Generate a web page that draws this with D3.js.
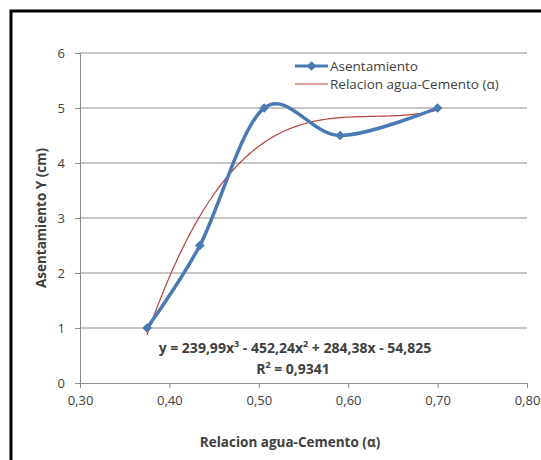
<!DOCTYPE html>
<html lang="es">
<head>
<meta charset="utf-8">
<script src="https://d3js.org/d3.v7.min.js"></script>
<style>
body { margin: 0; background: #fff; }
svg text { font-family: "Open Sans", "Liberation Sans", sans-serif; fill: #404040; }
</style>
</head>
<body>
<script>
// data
var ratio = [0.375, 0.434, 0.506, 0.591, 0.700];
var slump = [1.0, 2.5, 5.0, 4.5, 5.0];
var xTicks = [0.30, 0.40, 0.50, 0.60, 0.70, 0.80];
var yTicks = [0, 1, 2, 3, 4, 5, 6];
// trendline coefficients as printed on the chart (x^3, x^2, x, 1)
var trendCoef = [239.99, -452.24, 284.38, -54.825];
var seriesNames = ["Asentamiento", "Relacion agua-Cemento (\u03b1)"];

var width = 541, height = 460;
var plotLeft = 80, plotRight = 527, plotTop = 53, plotBottom = 383;

var svg = d3.select("body").append("svg")
  .attr("width", width)
  .attr("height", height);

// frame (only left and top edges are visible in the crop)
svg.append("path")
  .attr("d", "M11," + height + "V11H" + width)
  .attr("fill", "none").attr("stroke", "#000").attr("stroke-width", 3);

var x = d3.scaleLinear().domain([0.3, 0.8]).range([plotLeft, plotRight]);
var y = d3.scaleLinear().domain([0, 6]).range([plotBottom, plotTop]);

// gridlines
svg.append("g").selectAll("line")
  .data(yTicks.slice(1))
  .enter().append("line")
  .attr("x1", plotLeft).attr("x2", plotRight)
  .attr("y1", function(d) { return y(d); })
  .attr("y2", function(d) { return y(d); })
  .attr("stroke", "#8c8c8c").attr("stroke-width", 1);

// axes
var fmt = function(d) { return d3.format(".2f")(d).replace(".", ","); };
var xAxis = svg.append("g")
  .attr("transform", "translate(0," + plotBottom + ")")
  .call(d3.axisBottom(x).tickValues(xTicks).tickFormat(fmt).tickSize(5).tickPadding(8));
var yAxis = svg.append("g")
  .attr("transform", "translate(" + plotLeft + ",0)")
  .call(d3.axisLeft(y).tickValues(yTicks).tickFormat(d3.format("d")).tickSize(5).tickPadding(10));
[xAxis, yAxis].forEach(function(a) {
  a.select(".domain").attr("stroke", "#8c8c8c");
  a.selectAll(".tick line").attr("stroke", "#8c8c8c");
  a.selectAll("text").attr("font-size", 13).attr("fill", "#404040")
    .attr("font-family", "'Open Sans', sans-serif");
});

// trendline, evaluated from the printed polynomial over the data range
var trendPts = d3.range(ratio[0], ratio[ratio.length - 1] + 1e-9, 0.0025).map(function(t) {
  return [t, ((trendCoef[0] * t + trendCoef[1]) * t + trendCoef[2]) * t + trendCoef[3]];
});
svg.append("path")
  .datum(trendPts)
  .attr("fill", "none")
  .attr("stroke", "#b8433e")
  .attr("stroke-width", 1.2)
  .attr("d", d3.line().x(function(d) { return x(d[0]); }).y(function(d) { return y(d[1]); }));

// smoothed data series
var pts = ratio.map(function(r, i) { return [r, slump[i]]; });
svg.append("path")
  .datum(pts)
  .attr("fill", "none")
  .attr("stroke", "#4a7ab4")
  .attr("stroke-width", 3.5)
  .attr("d", d3.line().curve(d3.curveCardinal.tension(0))
    .x(function(d) { return x(d[0]); }).y(function(d) { return y(d[1]); }));

var diamond = d3.symbol().type(d3.symbolDiamond2).size(60);
svg.append("g").selectAll("path")
  .data(pts)
  .enter().append("path")
  .attr("d", diamond)
  .attr("transform", function(d) { return "translate(" + x(d[0]) + "," + y(d[1]) + ")"; })
  .attr("fill", "#4a7ab4");

// legend
var lg = svg.append("g").attr("transform", "translate(295,66)");
lg.append("line").attr("x1", 0).attr("x2", 33).attr("y1", 0).attr("y2", 0)
  .attr("stroke", "#4a7ab4").attr("stroke-width", 3);
lg.append("path").attr("d", diamond).attr("transform", "translate(16.5,0)").attr("fill", "#4a7ab4");
lg.append("text").attr("x", 35).attr("y", 0).attr("dy", "0.35em").attr("font-size", 13.5)
  .text(seriesNames[0]);
lg.append("line").attr("x1", 0).attr("x2", 33).attr("y1", 18).attr("y2", 18)
  .attr("stroke", "#b8433e").attr("stroke-width", 1.2);
lg.append("text").attr("x", 35).attr("y", 18).attr("dy", "0.35em").attr("font-size", 13.5)
  .text(seriesNames[1]);

// trendline equation
var eq = svg.append("text").attr("x", 295).attr("y", 353).attr("text-anchor", "middle")
  .attr("font-size", 14).attr("font-weight", "bold");
eq.append("tspan").text("y = 239,99x");
eq.append("tspan").attr("dy", -6).attr("font-size", 9).text("3");
eq.append("tspan").attr("dy", 6).text(" - 452,24x");
eq.append("tspan").attr("dy", -6).attr("font-size", 9).text("2");
eq.append("tspan").attr("dy", 6).text(" + 284,38x - 54,825");
var r2 = svg.append("text").attr("x", 293).attr("y", 374).attr("text-anchor", "middle")
  .attr("font-size", 14).attr("font-weight", "bold");
r2.append("tspan").text("R");
r2.append("tspan").attr("dy", -6).attr("font-size", 9).text("2");
r2.append("tspan").attr("dy", 6).text(" = 0,9341");

// axis titles
svg.append("text").attr("x", 290).attr("y", 447).attr("text-anchor", "middle")
  .attr("font-size", 13.5).attr("font-weight", "bold").text("Relacion agua-Cemento (\u03b1)");
svg.append("text").attr("transform", "translate(46,218) rotate(-90)")
  .attr("text-anchor", "middle").attr("font-size", 13.5).attr("font-weight", "bold")
  .text("Asentamiento Y (cm)");
</script>
</body>
</html>
